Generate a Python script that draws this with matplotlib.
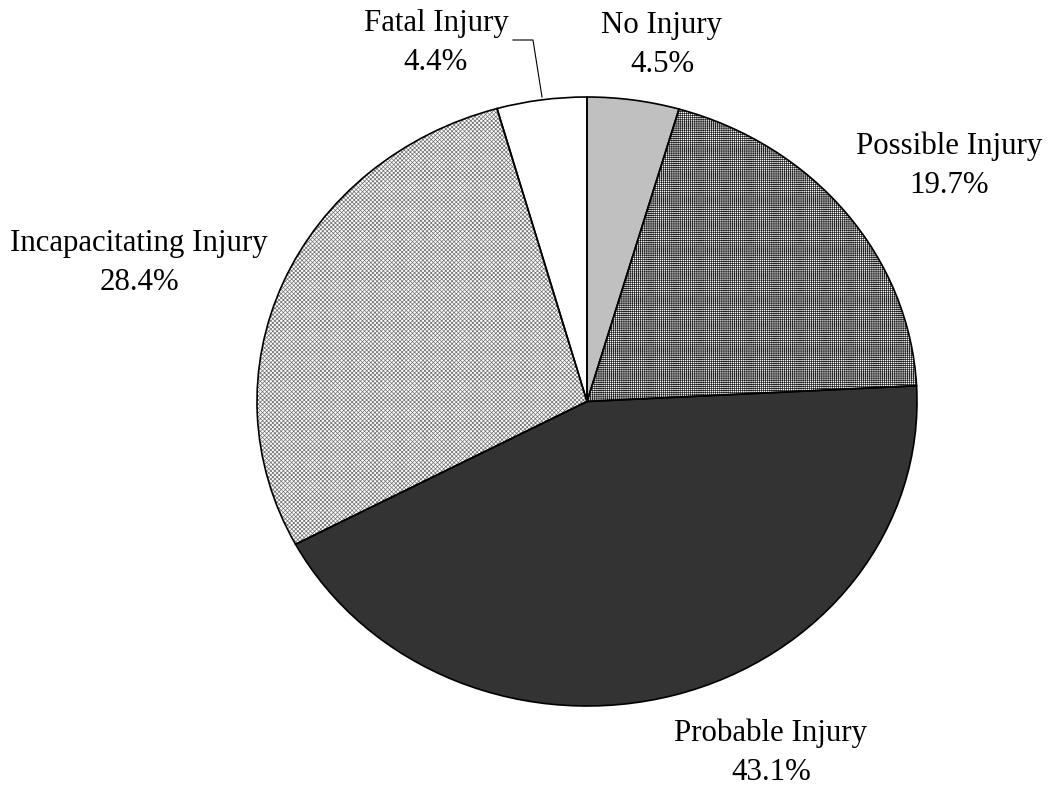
import matplotlib.pyplot as plt
from matplotlib.lines import Line2D

plt.rcParams['font.family'] = ['Liberation Serif', 'DejaVu Serif']
plt.rcParams['hatch.linewidth'] = 0.5

categories = ['No Injury', 'Possible Injury', 'Probable Injury',
              'Incapacitating Injury', 'Fatal Injury']
shares = [4.5, 19.7, 43.1, 28.4, 4.4]
pct_labels = ['4.5%', '19.7%', '43.1%', '28.4%', '4.4%']

faces = ['#c0c0c0', 'white', '#333333', 'white', 'white']
hatches = [None, '++++++++', None, 'xxxxxxxx', None]
hatch_cols = ['#c0c0c0', '#202020', '#333333', '#707070', 'white']

# label centres in pixels (x, y from top)
label_pos = [(662, 45), (949, 166), (771, 753), (139, 263), (436, 43)]

W, H = 1054, 790
fig = plt.figure(figsize=(W / 100, H / 100), dpi=100)
cx, cy, rx, ry = 587, 401.5, 330, 304.5
ax = fig.add_axes([(cx - rx) / W, 1 - (cy + ry) / H, 2 * rx / W, 2 * ry / H])

# fill + textures
wedges, _ = ax.pie(shares, startangle=90, counterclock=False,
                   colors=faces, wedgeprops=dict(linewidth=0))
for w, h, hc in zip(wedges, hatches, hatch_cols):
    w.set_edgecolor(hc)
    if h:
        w.set_hatch(h)
# outlines
ax.pie(shares, startangle=90, counterclock=False,
       wedgeprops=dict(facecolor='none', edgecolor='black', linewidth=1.2))
ax.set_aspect('auto')
ax.set_xlim(-1, 1)
ax.set_ylim(-1, 1)
ax.axis('off')

for name, pct, (px, py) in zip(categories, pct_labels, label_pos):
    fig.text(px / W, 1 - py / H, name + '\n' + pct, ha='center', va='center',
             fontsize=22.2, linespacing=1.44)

# leader line for Fatal Injury
lx = [513, 533, 542]
ly = [40, 40, 97]
fig.add_artist(Line2D([x / W for x in lx], [1 - y / H for y in ly],
                      color='black', linewidth=0.8))

fig.savefig('out.png', dpi=100, facecolor='white')
